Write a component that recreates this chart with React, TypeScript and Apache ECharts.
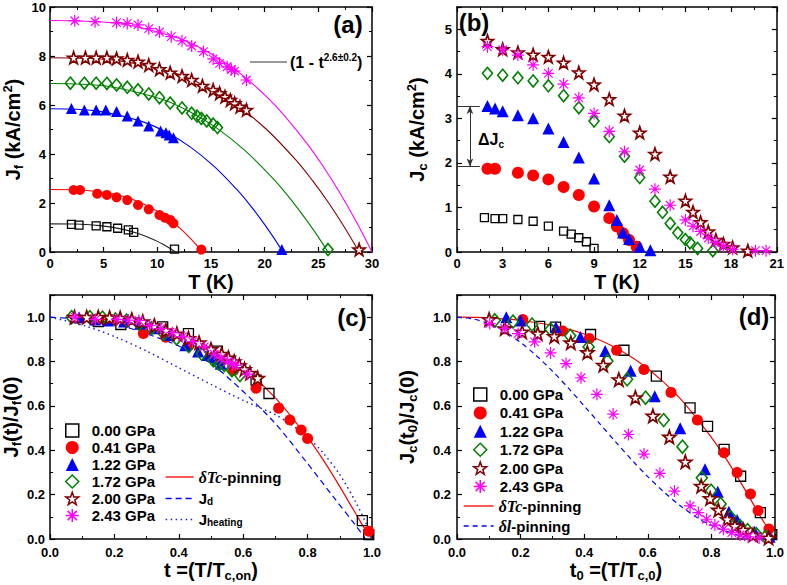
import React, { useEffect, useRef } from 'react';
import * as echarts from 'echarts';

// ---------------- panel (a): J_f vs T ----------------
const aT_000 = [2.0, 2.7, 4.3, 5.3, 6.3, 7.3, 7.8, 11.6];
const aJ_000 = [1.13, 1.10, 1.07, 1.03, 0.97, 0.90, 0.80, 0.12];
const aT_041 = [2.2, 2.8, 4.4, 5.3, 6.2, 7.2, 8.2, 9.2, 10.2, 10.7, 11.2, 11.5, 14.1];
const aJ_041 = [2.53, 2.53, 2.38, 2.33, 2.23, 2.12, 1.92, 1.74, 1.51, 1.40, 1.31, 1.17, 0.1];
const aT_122 = [2.0, 3.2, 4.3, 5.2, 6.2, 7.2, 8.2, 9.2, 10.3, 10.8, 11.1, 11.5, 21.6];
const aJ_122 = [5.86, 5.80, 5.80, 5.80, 5.73, 5.55, 5.35, 5.14, 4.94, 4.87, 4.78, 4.66, 0.1];
const aT_172 = [1.9, 3.2, 4.3, 5.3, 6.2, 7.2, 8.2, 9.2, 10.2, 11.2, 12.3, 13.2, 13.7, 14.1, 14.6, 15.2, 15.6, 25.9];
const aJ_172 = [6.89, 6.89, 6.89, 6.88, 6.82, 6.72, 6.62, 6.45, 6.30, 6.08, 5.88, 5.66, 5.55, 5.45, 5.35, 5.22, 5.08, 0.1];
const aT_200 = [2.2, 3.3, 4.3, 5.3, 6.2, 7.2, 8.2, 9.2, 10.2, 11.2, 12.3, 13.2, 14.2, 15.2, 15.8, 16.3, 16.8, 17.2, 17.7, 18.3, 28.8];
const aJ_200 = [7.93, 7.93, 7.93, 7.93, 7.90, 7.84, 7.77, 7.63, 7.46, 7.32, 7.18, 7.02, 6.78, 6.61, 6.48, 6.34, 6.20, 6.07, 5.93, 5.80, 0.1];
const aT_243 = [2.3, 4.2, 6.2, 7.2, 8.2, 9.2, 10.2, 11.3, 12.3, 13.2, 14.3, 15.2, 15.8, 16.5, 16.9, 17.2, 18.3];
const aJ_243 = [9.44, 9.40, 9.36, 9.33, 9.27, 9.12, 8.98, 8.79, 8.62, 8.41, 8.18, 7.88, 7.70, 7.56, 7.45, 7.38, 7.02];

// fit lines (1 - t^n)
const aFitT_000 = [0, 2.34, 4.68, 5.85, 7.02, 8.19, 9.36, 9.95, 10.53, 11.12, 11.7];
const aFitJ_000 = [1.15, 1.141, 1.076, 1.006, 0.902, 0.756, 0.561, 0.444, 0.312, 0.164, 0];
const aFitT_041 = [0, 2.84, 5.68, 7.1, 8.52, 9.94, 11.36, 12.07, 12.78, 13.49, 14.2];
const aFitJ_041 = [2.55, 2.53, 2.387, 2.231, 1.999, 1.675, 1.244, 0.984, 0.691, 0.365, 0];
const aFitT_122 = [0, 4.34, 8.68, 10.85, 13.02, 15.19, 17.36, 18.45, 19.53, 20.62, 21.7];
const aFitJ_122 = [5.85, 5.762, 5.312, 4.885, 4.3, 3.533, 2.574, 2.018, 1.404, 0.731, 0];
const aFitT_172 = [0, 5.18, 10.36, 12.95, 15.54, 18.13, 20.72, 22.02, 23.31, 24.61, 25.9];
const aFitJ_172 = [6.88, 6.777, 6.247, 5.745, 5.057, 4.156, 3.027, 2.374, 1.651, 0.86, 0];
const aFitT_200 = [0, 5.76, 11.52, 14.4, 17.28, 20.16, 23.04, 24.48, 25.92, 27.36, 28.8];
const aFitJ_200 = [7.93, 7.84, 7.32, 6.79, 6.03, 5.01, 3.69, 2.90, 2.03, 1.06, 0];
const aFitT_243 = [0, 6, 12, 15, 18, 21, 24, 25.5, 27, 28.5, 30];
const aFitJ_243 = [9.45, 9.346, 8.722, 8.089, 7.191, 5.972, 4.394, 3.459, 2.419, 1.266, 0];

// ---------------- panel (b): J_c vs T ----------------
const bT_000 = [1.8, 2.5, 3.0, 4.0, 5.0, 6.0, 7.0, 7.5, 8.0, 8.5, 9.0];
const bJ_000 = [0.77, 0.75, 0.75, 0.73, 0.69, 0.58, 0.47, 0.40, 0.32, 0.23, 0.08];
const bT_041 = [2.0, 2.5, 4.0, 5.0, 6.0, 7.0, 8.0, 9.0, 10.0, 10.5, 10.9, 11.3, 11.8];
const bJ_041 = [1.87, 1.87, 1.78, 1.72, 1.63, 1.46, 1.28, 1.02, 0.76, 0.57, 0.42, 0.27, 0.12];
const bT_122 = [2.0, 2.5, 3.0, 4.0, 5.0, 6.0, 7.0, 8.0, 9.0, 10.0, 10.5, 10.9, 11.3, 12.0, 12.7];
const bJ_122 = [3.28, 3.22, 3.16, 3.07, 3.0, 2.77, 2.47, 2.12, 1.65, 1.05, 0.72, 0.44, 0.29, 0.12, 0.04];
const bT_172 = [2, 3, 4, 5, 6, 7, 8, 9, 10, 11, 12, 13, 13.5, 14, 14.5, 15, 15.3, 15.8, 16.8];
const bJ_172 = [4.01, 3.97, 3.91, 3.84, 3.73, 3.51, 3.24, 2.94, 2.59, 2.15, 1.67, 1.14, 0.89, 0.64, 0.43, 0.28, 0.21, 0.08, 0.03];
const bT_200 = [2, 3, 4, 5, 6, 7, 8, 9, 10, 11, 12, 13, 14, 15, 15.5, 16, 16.5, 17, 17.5, 18.1, 19.1];
const bJ_200 = [4.74, 4.55, 4.48, 4.43, 4.38, 4.25, 4.03, 3.76, 3.43, 3.06, 2.68, 2.20, 1.69, 1.15, 0.90, 0.67, 0.46, 0.27, 0.18, 0.10, 0.03];
const bT_243 = [2, 3, 4, 5, 6, 7, 8, 9, 10, 11, 12, 13, 14, 15, 15.5, 16, 16.5, 17, 17.5, 18.1, 19.6, 20.3];
const bJ_243 = [4.61, 4.54, 4.42, 4.20, 4.01, 3.77, 3.46, 3.11, 2.71, 2.25, 1.84, 1.41, 1.05, 0.72, 0.58, 0.46, 0.31, 0.21, 0.13, 0.06, 0.03, 0.03];
const bDeltaJ = [3.28, 1.92];

// ---------------- panel (c): J_f(t)/J_f(0) ----------------
const cT_000 = [0.15, 0.22, 0.35, 0.43, 0.52, 0.64, 0.68, 0.97, 0.99];
const cJ_000 = [0.98, 0.967, 0.956, 0.926, 0.847, 0.716, 0.656, 0.083, 0.02];
const cT_041 = [0.15, 0.19, 0.29, 0.36, 0.43, 0.50, 0.57, 0.64, 0.71, 0.745, 0.78, 0.80, 0.99];
const cJ_041 = [0.99, 0.99, 0.926, 0.91, 0.87, 0.83, 0.76, 0.68, 0.59, 0.536, 0.491, 0.453, 0.035];
const cT_122 = [0.09, 0.14, 0.18, 0.23, 0.28, 0.33, 0.37, 0.42, 0.46, 0.49, 0.51, 0.52, 0.53];
const cJ_122 = [1.0, 0.99, 0.985, 0.98, 0.97, 0.95, 0.92, 0.874, 0.845, 0.83, 0.82, 0.81, 0.79];
const cT_172 = [0.067, 0.124, 0.163, 0.203, 0.238, 0.277, 0.315, 0.354, 0.393, 0.431, 0.471, 0.507, 0.525, 0.541, 0.565, 0.59];
const cJ_172 = [1.0, 1.0, 0.998, 0.99, 0.985, 0.97, 0.95, 0.925, 0.904, 0.87, 0.835, 0.806, 0.79, 0.784, 0.761, 0.739];
const cT_200 = [0.076, 0.114, 0.15, 0.185, 0.218, 0.254, 0.288, 0.324, 0.36, 0.394, 0.43, 0.463, 0.5, 0.533, 0.554, 0.572, 0.588, 0.604, 0.621, 0.645];
const cJ_200 = [1.0, 1.0, 1.0, 0.998, 0.996, 0.989, 0.98, 0.962, 0.94, 0.925, 0.905, 0.885, 0.855, 0.834, 0.817, 0.8, 0.782, 0.765, 0.748, 0.725];
const cT_243 = [0.078, 0.141, 0.208, 0.243, 0.276, 0.309, 0.344, 0.38, 0.411, 0.443, 0.479, 0.51, 0.531, 0.552, 0.567, 0.577, 0.614];
const cJ_243 = [1.0, 0.99, 0.99, 0.987, 0.985, 0.962, 0.949, 0.93, 0.912, 0.89, 0.866, 0.833, 0.815, 0.8, 0.788, 0.783, 0.743];
const cCurveT = [0.05, 0.1, 0.2, 0.3, 0.4, 0.5, 0.6, 0.7, 0.8, 0.85, 0.9, 0.95, 0.98, 1.0];
const cTcPin = [0.999, 0.997, 0.985, 0.963, 0.924, 0.861, 0.768, 0.636, 0.458, 0.353, 0.236, 0.113, 0.041, 0];
const cJdT = [0, 0.1, 0.2, 0.3, 0.4, 0.5, 0.6, 0.7, 0.8, 0.88, 0.95, 0.98];
const cJd = [1.0, 0.99, 0.97, 0.925, 0.87, 0.79, 0.665, 0.52, 0.34, 0.19, 0.06, 0.0];
const cHeatT = [0, 0.1, 0.2, 0.3, 0.4, 0.5, 0.6, 0.7, 0.75, 0.8, 0.85, 0.9, 0.95, 0.98, 1.0];
const cHeat = [1.0, 0.965, 0.913, 0.847, 0.772, 0.697, 0.625, 0.56, 0.515, 0.46, 0.385, 0.29, 0.165, 0.075, 0.0];

// ---------------- panel (d): J_c(t0)/J_c(0) ----------------
const dT_000 = [0.26, 0.31, 0.42, 0.525, 0.627, 0.733, 0.788, 0.84, 0.892, 0.954, 0.99];
const dJ_000 = [0.959, 0.955, 0.922, 0.851, 0.734, 0.591, 0.508, 0.404, 0.283, 0.119, 0.02];
const dT_041 = [0.207, 0.332, 0.416, 0.502, 0.588, 0.673, 0.756, 0.84, 0.881, 0.923, 0.947, 0.981];
const dJ_041 = [0.99, 0.938, 0.904, 0.851, 0.764, 0.661, 0.536, 0.389, 0.30, 0.203, 0.128, 0.045];
const dT_122 = [0.155, 0.2, 0.311, 0.388, 0.466, 0.546, 0.622, 0.702, 0.78, 0.82, 0.855, 0.881, 0.936, 0.983];
const dJ_122 = [1.0, 0.985, 0.955, 0.911, 0.848, 0.758, 0.644, 0.499, 0.314, 0.213, 0.123, 0.086, 0.033, 0.01];
const dT_172 = [0.119, 0.176, 0.236, 0.294, 0.356, 0.414, 0.473, 0.535, 0.593, 0.65, 0.709, 0.77, 0.799, 0.829, 0.86, 0.89, 0.914, 0.942, 0.97];
const dJ_172 = [0.986, 0.98, 0.967, 0.945, 0.916, 0.866, 0.802, 0.72, 0.637, 0.536, 0.416, 0.276, 0.218, 0.158, 0.1, 0.059, 0.04, 0.021, 0.01];
const dT_200 = [0.101, 0.15, 0.205, 0.254, 0.306, 0.358, 0.41, 0.46, 0.509, 0.561, 0.616, 0.668, 0.718, 0.768, 0.796, 0.822, 0.85, 0.874, 0.9, 0.931, 0.98];
const dJ_200 = [0.99, 0.949, 0.934, 0.926, 0.914, 0.885, 0.841, 0.784, 0.719, 0.638, 0.555, 0.46, 0.348, 0.239, 0.183, 0.131, 0.089, 0.059, 0.041, 0.018, 0.005];
const dT_243 = [0.103, 0.15, 0.192, 0.244, 0.294, 0.343, 0.39, 0.44, 0.491, 0.539, 0.588, 0.638, 0.684, 0.733, 0.759, 0.785, 0.811, 0.838, 0.864, 0.89, 0.916, 0.95];
const dJ_243 = [0.971, 0.949, 0.926, 0.889, 0.839, 0.791, 0.727, 0.652, 0.563, 0.471, 0.383, 0.296, 0.216, 0.149, 0.119, 0.089, 0.063, 0.044, 0.029, 0.018, 0.01, 0.005];
const dCurveT = [0, 0.1, 0.2, 0.3, 0.4, 0.5, 0.6, 0.7, 0.8, 0.85, 0.9, 0.95, 0.98, 1.0];
const dTcPin = [1.0, 0.997, 0.985, 0.963, 0.924, 0.861, 0.768, 0.636, 0.458, 0.353, 0.236, 0.113, 0.041, 0];
const dLPinT = [0, 0.05, 0.1, 0.15, 0.2, 0.25, 0.3, 0.35, 0.4, 0.45, 0.5, 0.55, 0.6, 0.65, 0.7, 0.75, 0.8, 0.9, 1.0];
const dLPin = [1.0, 0.9925, 0.970, 0.934, 0.886, 0.826, 0.757, 0.681, 0.600, 0.518, 0.436, 0.356, 0.281, 0.213, 0.152, 0.101, 0.061, 0.012, 0];

const PRES = ['0.00 GPa', '0.41 GPa', '1.22 GPa', '1.72 GPa', '2.00 GPa', '2.43 GPa'];

// ---------------- styling ----------------
const F = 'Liberation Sans';
const SERIF = 'Liberation Serif';
const STAR = 'path://M5,0 L6.18,3.38 L9.76,3.45 L6.9,5.62 L7.94,9.05 L5,7 L2.06,9.05 L3.1,5.62 L0.24,3.45 L3.82,3.38 Z';
const ASTER = 'path://M5,0 L5,10 M0,5 L10,5 M1.46,1.46 L8.54,8.54 M1.46,8.54 L8.54,1.46';
const MARK: any[] = [
  { symbol: 'rect', fill: 'rgba(0,0,0,0)', stroke: '#000000', bw: 1.3, size: [8, 8, 10, 10] },
  { symbol: 'circle', fill: '#ff0000', stroke: undefined, bw: 0, size: [10, 12, 11, 11] },
  { symbol: 'triangle', fill: '#0000ff', stroke: undefined, bw: 0, size: [11, 12, 12, 12] },
  { symbol: 'diamond', fill: 'rgba(0,0,0,0)', stroke: '#008000', bw: 1.6, size: [[10, 12], [10, 12], [11, 13], [11, 13]] },
  { symbol: STAR, fill: '#ffffff', stroke: '#800000', bw: 1.7, size: [12, 12, 13, 13] },
  { symbol: ASTER, fill: 'rgba(0,0,0,0)', stroke: '#ff00ff', bw: 1.2, size: [12, 12, 12, 12] },
];
const FITCOL = ['#222222', '#ff0000', '#0000ff', '#008000', '#800000', '#ff00ff'];

const tok = (size: number, extra: any = {}) => ({
  fontFamily: F, fontWeight: 'bold', fontSize: size, color: '#000', fill: '#000', ...extra,
});
const titleRich = {
  n: tok(20, { lineHeight: 24 }),
  sub: tok(13, { lineHeight: 12, verticalAlign: 'bottom' }),
  sup: tok(13, { lineHeight: 12, verticalAlign: 'top' }),
};
const legendRich = {
  n: tok(15, { lineHeight: 15 }),
  sub: tok(10, { lineHeight: 7, verticalAlign: 'bottom' }),
  it: { fontFamily: SERIF, fontStyle: 'italic', fontWeight: 'bold', fontSize: 16, color: '#000', fill: '#000', lineHeight: 15 },
};
const LEG_LABEL: Record<string, string> = {
  'δTc-pinning': '{it|δTc}{n|-pinning}',
  'δl-pinning': '{it|δl}{n|-pinning}',
  Jd: '{n|J}{sub|d}',
  Jheating: '{n|J}{sub|heating}',
};

const zip = (xs: number[], ys: number[]) => xs.map((x, i) => [x, ys[i]]);
const intFmt = (v: number) => (Number.isInteger(v) ? String(v) : '');
const dec1Fmt = (v: number) => (Math.abs(v * 5 - Math.round(v * 5)) < 1e-6 ? v.toFixed(1) : '');

function valAxis(o: any) {
  return {
    type: 'value',
    gridIndex: o.grid,
    min: o.min, max: o.max, interval: o.interval,
    position: o.position,
    name: o.name || '',
    nameLocation: 'middle',
    nameGap: o.nameGap || 0,
    nameRotate: o.rotate || 0,
    nameTextStyle: { ...tok(20), rich: titleRich },
    axisLine: { show: true, onZero: false, lineStyle: { color: '#000', width: 1.5 } },
    axisTick: { show: true, inside: true, length: 5, lineStyle: { color: '#000', width: 1.2 } },
    minorTick: { show: true, splitNumber: 2, length: 3, lineStyle: { color: '#000', width: 1 } },
    splitLine: { show: false },
    minorSplitLine: { show: false },
    axisLabel: {
      show: !!o.labels, margin: o.margin || 5, formatter: o.fmt,
      fontFamily: F, fontWeight: 'bold', fontSize: 13, color: '#000',
    },
  };
}

function scatter(i: number, pi: number, data: number[][], extra: any = {}) {
  const m = MARK[i];
  return {
    type: 'scatter', name: PRES[i], xAxisIndex: pi, yAxisIndex: pi, data,
    symbol: m.symbol, symbolSize: m.size[pi],
    itemStyle: { color: m.fill, borderColor: m.stroke, borderWidth: m.bw, opacity: 1 },
    z: 3, silent: true, ...extra,
  };
}

function buildOption() {
  const aX = [aT_000, aT_041, aT_122, aT_172, aT_200, aT_243];
  const aY = [aJ_000, aJ_041, aJ_122, aJ_172, aJ_200, aJ_243];
  const bX = [bT_000, bT_041, bT_122, bT_172, bT_200, bT_243];
  const bY = [bJ_000, bJ_041, bJ_122, bJ_172, bJ_200, bJ_243];
  const cX = [cT_000, cT_041, cT_122, cT_172, cT_200, cT_243];
  const cY = [cJ_000, cJ_041, cJ_122, cJ_172, cJ_200, cJ_243];
  const dX = [dT_000, dT_041, dT_122, dT_172, dT_200, dT_243];
  const dY = [dJ_000, dJ_041, dJ_122, dJ_172, dJ_200, dJ_243];
  const fitX = [aFitT_000, aFitT_041, aFitT_122, aFitT_172, aFitT_200, aFitT_243];
  const fitY = [aFitJ_000, aFitJ_041, aFitJ_122, aFitJ_172, aFitJ_200, aFitJ_243];

  const series: any[] = [];
  fitX.forEach((xs, i) => series.push({
    type: 'line', name: 'fit' + i, xAxisIndex: 0, yAxisIndex: 0, data: zip(xs, fitY[i]),
    symbol: 'none', smooth: 0.35, lineStyle: { color: FITCOL[i], width: 1.1 }, z: 1, silent: true,
  }));
  // model curves
  series.push({ type: 'line', name: 'δTc-pinning', xAxisIndex: 2, yAxisIndex: 2, data: zip(cCurveT, cTcPin), symbol: 'none', smooth: 0.3, lineStyle: { color: '#ff0000', width: 1.2 }, z: 2, silent: true });
  series.push({ type: 'line', name: 'Jd', xAxisIndex: 2, yAxisIndex: 2, data: zip(cJdT, cJd), symbol: 'none', smooth: 0.3, lineStyle: { color: '#0000ff', width: 1.2, type: [6, 4] }, z: 2, silent: true });
  series.push({ type: 'line', name: 'Jheating', xAxisIndex: 2, yAxisIndex: 2, data: zip(cHeatT, cHeat), symbol: 'none', smooth: 0.3, lineStyle: { color: '#2020cc', width: 1.5, type: [1.5, 3.5] }, z: 2, silent: true });
  series.push({ type: 'line', name: 'δTc-pinning', xAxisIndex: 3, yAxisIndex: 3, data: zip(dCurveT, dTcPin), symbol: 'none', smooth: 0.3, lineStyle: { color: '#ff0000', width: 1.2 }, z: 2, silent: true });
  series.push({ type: 'line', name: 'δl-pinning', xAxisIndex: 3, yAxisIndex: 3, data: zip(dLPinT, dLPin), symbol: 'none', smooth: 0.3, lineStyle: { color: '#0000ff', width: 1.2, type: [5, 4] }, z: 2, silent: true });

  for (let i = 0; i < 6; i++) series.push(scatter(i, 0, zip(aX[i], aY[i])));
  for (let i = 0; i < 6; i++) {
    const extra = i === 0 ? {
      markLine: {
        silent: true, symbol: ['none', 'none'], label: { show: false },
        lineStyle: { color: '#333', width: 1, type: 'solid' },
        emphasis: { disabled: true },
        data: [
          [{ coord: [0, bDeltaJ[0]] }, { coord: [1.5, bDeltaJ[0]] }],
          [{ coord: [0, bDeltaJ[1]] }, { coord: [1.5, bDeltaJ[1]] }],
          [{ coord: [0.85, bDeltaJ[0]], symbol: 'arrow', symbolSize: [5, 8] }, { coord: [0.85, bDeltaJ[1]], symbol: 'arrow', symbolSize: [5, 8] }],
        ],
      },
    } : {};
    series.push(scatter(i, 1, zip(bX[i], bY[i]), extra));
  }
  for (let i = 0; i < 6; i++) series.push(scatter(i, 2, zip(cX[i], cY[i])));
  for (let i = 0; i < 6; i++) series.push(scatter(i, 3, zip(dX[i], dY[i])));

  const legendText = { ...tok(15), lineHeight: 14, rich: legendRich };
  const legCommon = {
    orient: 'vertical', padding: 0, selectedMode: false,
    itemStyle: { borderWidth: 1.5 }, lineStyle: { width: 1.3 },
    formatter: (name: string) => LEG_LABEL[name] || name,
  };
  const symLegend = { ...legCommon, itemWidth: 13, itemHeight: 13, textStyle: { ...legendText, padding: [0, 0, 0, 8] } };
  const lineLegend = { ...legCommon, itemHeight: 12, textStyle: legendText };
  const lineItem = (name: string) => ({ name, itemStyle: { opacity: 0 } });

  return {
    animation: false,
    backgroundColor: '#ffffff',
    grid: [
      { left: 50, top: 7, width: 322, height: 245 },
      { left: 457, top: 7, width: 320, height: 245 },
      { left: 50, top: 295, width: 322, height: 244 },
      { left: 457, top: 295, width: 320, height: 244 },
    ],
    xAxis: [
      valAxis({ grid: 0, min: 0, max: 30, interval: 5, position: 'bottom', labels: true, fmt: intFmt, margin: 5, name: '{n|T (K)}', nameGap: 18 }),
      valAxis({ grid: 1, min: 0, max: 21, interval: 3, position: 'bottom', labels: true, fmt: intFmt, margin: 5, name: '{n|T (K)}', nameGap: 18 }),
      valAxis({ grid: 2, min: 0, max: 1, interval: 0.2, position: 'bottom', labels: true, fmt: dec1Fmt, margin: 7, name: '{n|t =(T/T}{sub|c,on}{n|)}', nameGap: 14 }),
      valAxis({ grid: 3, min: 0, max: 1, interval: 0.2, position: 'bottom', labels: true, fmt: dec1Fmt, margin: 7, name: '{n|t}{sub|0}{n| =(T/T}{sub|c,0}{n|)}', nameGap: 14 }),
      valAxis({ grid: 0, min: 0, max: 30, interval: 5, position: 'top' }),
      valAxis({ grid: 1, min: 0, max: 21, interval: 3, position: 'top' }),
      valAxis({ grid: 2, min: 0, max: 1, interval: 0.2, position: 'top' }),
      valAxis({ grid: 3, min: 0, max: 1, interval: 0.2, position: 'top' }),
    ],
    yAxis: [
      valAxis({ grid: 0, min: 0, max: 10, interval: 2, position: 'left', labels: true, fmt: intFmt, margin: 4, name: '{n|J}{sub|f}{n| (kA/cm}{sup|2}{n|)}', nameGap: 25, rotate: 90 }),
      valAxis({ grid: 1, min: 0, max: 5.5, interval: 1, position: 'left', labels: true, fmt: intFmt, margin: 5, name: '{n|J}{sub|c}{n| (kA/cm}{sup|2}{n|)}', nameGap: 28, rotate: 90 }),
      valAxis({ grid: 2, min: 0, max: 1.1, interval: 0.2, position: 'left', labels: true, fmt: dec1Fmt, margin: 5, name: '{n|J}{sub|f}{n|(t)/J}{sub|f}{n|(0)}', nameGap: 25, rotate: 90 }),
      valAxis({ grid: 3, min: 0, max: 1.1, interval: 0.2, position: 'left', labels: true, fmt: dec1Fmt, margin: 6, name: '{n|J}{sub|c}{n|(t}{sub|0}{n|)/J}{sub|c}{n|(0)}', nameGap: 38, rotate: 90 }),
      valAxis({ grid: 0, min: 0, max: 10, interval: 2, position: 'right' }),
      valAxis({ grid: 1, min: 0, max: 5.5, interval: 1, position: 'right' }),
      valAxis({ grid: 2, min: 0, max: 1.1, interval: 0.2, position: 'right' }),
      valAxis({ grid: 3, min: 0, max: 1.1, interval: 0.2, position: 'right' }),
    ],
    legend: [
      { ...symLegend, data: PRES, left: 65, top: 423, itemGap: 2 },
      { ...lineLegend, data: [lineItem('δTc-pinning'), lineItem('Jd'), lineItem('Jheating')], left: 165, top: 469, itemWidth: 28, itemGap: 6 },
      { ...symLegend, data: PRES, left: 473, top: 387, itemGap: 3.4 },
      { ...lineLegend, data: [lineItem('δTc-pinning'), lineItem('δl-pinning')], left: 463, top: 498, itemWidth: 30, itemGap: 4 },
    ],
    graphic: [
      { type: 'line', silent: true, shape: { x1: 250, y1: 62, x2: 287, y2: 62 }, style: { stroke: '#333', lineWidth: 1.2 } },
      {
        type: 'text', silent: true, x: 290, y: 62,
        style: {
          text: '{n|(1 - t}{sup|2.6±0.2}{n|)}',
          rich: { n: tok(16, { lineHeight: 20 }), sup: tok(10, { lineHeight: 10, verticalAlign: 'top' }) },
          align: 'left', verticalAlign: 'middle', textAlign: 'left', textVerticalAlign: 'middle',
        },
      },
      {
        type: 'text', silent: true, x: 478, y: 139,
        style: {
          text: '{n|ΔJ}{sub|c}',
          rich: { n: tok(16, { lineHeight: 20 }), sub: tok(10, { lineHeight: 9, verticalAlign: 'bottom' }) },
          align: 'left', verticalAlign: 'middle', textAlign: 'left', textVerticalAlign: 'middle',
        },
      },
      ...[['(a)', 348, 24], ['(b)', 474, 22], ['(c)', 352, 317], ['(d)', 754, 316]].map(([t, x, y]) => ({
        type: 'text', silent: true, x, y,
        style: {
          text: t, fontFamily: F, fontWeight: 'bold', fontSize: 24, fill: '#000',
          align: 'center', verticalAlign: 'middle', textAlign: 'center', textVerticalAlign: 'middle',
        },
      })),
    ],
    series,
  };
}

export default function App() {
  const ref = useRef<HTMLDivElement>(null);
  useEffect(() => {
    if (!ref.current) return;
    const chart = echarts.init(ref.current, null, { renderer: 'svg' });
    chart.setOption(buildOption() as any);
    return () => chart.dispose();
  }, []);
  return (
    <div
      ref={ref}
      style={{ position: 'absolute', left: 0, top: 0, width: 787, height: 585, background: '#fff' }}
    />
  );
}
